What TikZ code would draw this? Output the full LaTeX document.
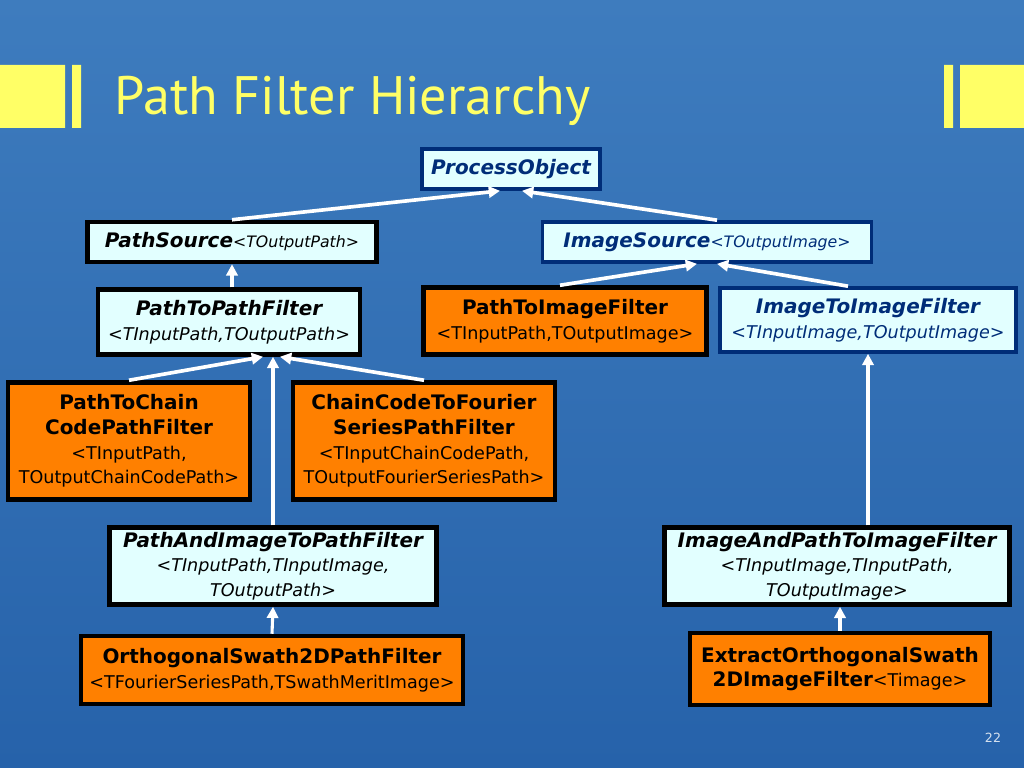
\documentclass[tikz,border=0pt]{standalone}
\usepackage{fontspec}
\setmainfont{DejaVu Sans}
\newfontfamily\titlefont{PT Sans}
\usetikzlibrary{arrows.meta,calc}
\definecolor{slidetop}{RGB}{62,124,190}
\definecolor{slidebot}{RGB}{38,98,170}
\definecolor{slideyel}{RGB}{255,255,102}
\definecolor{clsfill}{RGB}{226,255,255}
\definecolor{implfill}{RGB}{255,128,0}
\definecolor{clsnavy}{RGB}{0,45,120}
\newcommand\nmfont{\fontsize{14.2}{17.6}\selectfont\bfseries}
\newcommand\tpfont{\fontsize{12.5}{17.6}\selectfont\mdseries}
\newcommand\tpsmall{\fontsize{11.2}{17.6}\selectfont\mdseries}

\begin{document}
\begin{tikzpicture}[x=0.025cm,y=-0.025cm,
  sz/.style 2 args={minimum width=#1*0.025cm,minimum height=#2*0.025cm},
  box/.style={draw=black,line width=3.2pt,inner sep=0pt,align=center,text=black,
    font=\fontsize{12.5}{17.6}\selectfont},
  cls/.style={box,fill=clsfill},
  navycls/.style={cls,draw=clsnavy,line width=2.6pt,text=clsnavy},
  impl/.style={box,fill=implfill},
  inh/.style={draw=white,line width=2.6pt,-{Triangle[length=8pt,width=8pt]}},
  thinh/.style={inh,line width=2.2pt}]
  \useasboundingbox (0,0) rectangle (1024,768);
  \shade[top color=slidetop,bottom color=slidebot] (0,0) rectangle (1024,768);
  \fill[slideyel] (0,65) rectangle (65,128) (72,65) rectangle (81,128);
  \fill[slideyel] (944,65) rectangle (953,128) (960,65) rectangle (1024,128);
  \node[anchor=west,text=slideyel,font=\titlefont\fontsize{38.5}{40}\selectfont] (title) at (110,101) {Path Filter Hierarchy};

  \node[navycls,sz={178}{40}] (proc) at (511,169) {\nmfont\itshape ProcessObject};
  \node[cls,sz={289}{40}] (psrc) at (232,242) {\nmfont\itshape PathSource\tpsmall<TOutputPath>};
  \node[navycls,sz={329}{40}] (isrc) at (707,242) {\nmfont\itshape ImageSource\tpsmall<TOutputImage>};

  \node[cls,sz={262}{65}] (p2p) at (229,322) {\nmfont\itshape PathToPathFilter\\\tpfont\itshape <TInputPath,TOutputPath>};
  \node[impl,sz={283}{67}] (p2i) at (565,321) {\nmfont PathToImageFilter\\\tpfont <TInputPath,TOutputImage>};
  \node[navycls,sz={296}{64}] (i2i) at (868,320) {\nmfont\itshape ImageToImageFilter\\\tpfont\itshape <TInputImage,TOutputImage>};

  \node[impl,sz={242}{117}] (p2cc) at (129,441) {\nmfont PathToChain\\\nmfont CodePathFilter\\\tpfont <TInputPath,\\\tpfont TOutputChainCodePath>};
  \node[impl,sz={262}{117}] (cc2f) at (424,441) {\nmfont ChainCodeToFourier\\\nmfont SeriesPathFilter\\\tpfont <TInputChainCodePath,\\\tpfont TOutputFourierSeriesPath>};

  \node[cls,sz={327}{77}] (pi2p) at (273,566) {\nmfont\itshape PathAndImageToPathFilter\\\tpfont\itshape <TInputPath,TInputImage,\\\tpfont\itshape TOutputPath>};
  \node[cls,sz={345}{77}] (ip2i) at (837,566) {\nmfont\itshape ImageAndPathToImageFilter\\\tpfont\itshape <TInputImage,TInputPath,\\\tpfont\itshape TOutputImage>};

  \node[impl,sz={382}{68}] (orth) at (272,670) {\nmfont OrthogonalSwath2DPathFilter\\\tpfont <TFourierSeriesPath,TSwathMeritImage>};
  \node[impl,sz={300}{72}] (extr) at (840,669) {\nmfont ExtractOrthogonalSwath\\\nmfont 2DImageFilter\tpfont<Timage>};

  \node[text=white!80!slidebot,font=\fontsize{9}{10}\selectfont] (pgnum) at (993,738) {22};

  \draw[inh] (psrc.north) -- ($(proc.south)+(-11,0)$);
  \draw[inh] ($(isrc.north)+(10,0)$) -- ($(proc.south)+(11,0)$);
  \draw[thinh] (psrc.south |- p2p.north) -- (psrc.south);
  \draw[inh] ($(p2i.north)+(-5,0)$) -- ($(isrc.south)+(-10,0)$);
  \draw[inh] ($(i2i.north)+(-20,0)$) -- ($(isrc.south)+(10,0)$);
  \draw[inh] (p2cc.north) -- ($(p2p.south)+(34,0)$);
  \draw[inh] (cc2f.north) -- ($(p2p.south)+(51,0)$);
  \draw[thinh] (pi2p.north) -- (pi2p.north |- p2p.south);
  \draw[thinh] (i2i.south |- ip2i.north) -- (i2i.south);
  \draw[thinh] (orth.north) -- (pi2p.south);
  \draw[thinh] (extr.north) -- (extr.north |- ip2i.south);
\end{tikzpicture}
\end{document}
